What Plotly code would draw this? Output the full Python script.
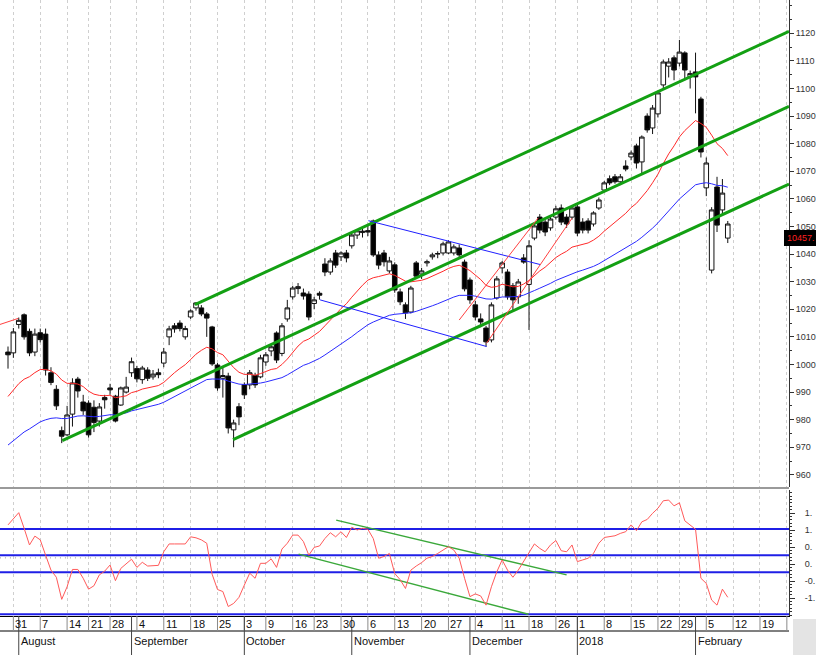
import plotly.graph_objects as go
import pandas as pd

# ---------------- data ----------------
holidays = ["2017-08-15", "2017-08-25", "2017-10-02", "2017-10-20", "2017-12-25", "2018-01-26"]
first_day = "2017-07-28"
last_axis_day = "2018-03-02"

opens = [1004.5,1004.2,1014.5,1018.0,1012.0,1004.5,1011.5,1011.0,997.0,991.0,
         976.0,974.5,982.0,994.7,986.4,986.0,984.5,979.5,988.0,991.5,
         988.5,985.3,990.0,997.0,998.5,994.5,998.0,995.5,997.0,1000.5,
         1010.0,1014.0,1015.0,1010.0,1017.2,1020.5,1020.5,1018.3,1013.6,999.8,
         995.0,995.8,976.3,984.7,992.6,992.6,996.0,995.5,1000.9,1004.9,
         1011.4,1004.0,1016.5,1024.5,1027.5,1025.9,1025.5,1022.1,1025.8,1036.4,
         1033.5,1040.4,1039.0,1040.4,1043.0,1046.9,1047.8,1048.5,1052.0,1039.7,
         1040.4,1033.9,1036.1,1026.3,1021.6,1019.0,1036.8,1032.8,1036.8,1039.0,
         1040.0,1040.4,1040.4,1040.4,1042.2,1037.1,1030.6,1021.6,1016.5,1013.2,
         1008.9,1024.1,1035.0,1033.5,1028.5,1024.5,1038.6,1029.0,1045.8,1053.4,
         1051.6,1049.5,1053.4,1056.7,1053.4,1053.4,1057.1,1051.6,1052.0,1050.9,
         1056.7,1063.2,1067.3,1068.0,1066.2,1071.9,1075.2,1079.2,1073.4,1090.0,
         1085.7,1090.8,1101.3,1108.1,1111.1,1109.2,1112.9,1104.3,1106.0,1096.2,
         1064.0,1034.2,1064.3,1056.0,1045.8]
highs = [1006.5,1013.2,1017.0,1018.5,1013.0,1013.0,1013.0,1013.0,999.0,992.5,
         977.5,985.0,995.0,995.5,989.0,987.0,987.0,986.0,989.0,993.0,
         989.0,992.0,995.5,1002.5,999.5,999.5,999.0,998.0,998.5,1006.0,
         1014.0,1015.0,1016.0,1014.0,1020.0,1022.5,1021.5,1019.0,1014.0,1000.5,
         999.0,997.0,980.0,986.0,993.5,998.0,997.0,1003.5,1004.5,1007.5,
         1012.0,1015.0,1023.4,1028.5,1029.5,1027.5,1026.5,1024.5,1026.5,1038.5,
         1038.5,1041.5,1041.0,1041.5,1047.5,1049.0,1049.5,1050.5,1052.5,1041.0,
         1041.5,1039.0,1037.0,1027.5,1022.5,1028.5,1037.5,1035.0,1038.0,1040.5,
         1041.0,1044.5,1045.0,1043.5,1043.5,1038.0,1031.5,1023.0,1018.5,1014.0,
         1022.5,1032.0,1037.5,1034.5,1029.5,1031.0,1040.0,1045.0,1051.0,1054.5,
         1052.5,1053.5,1057.5,1058.0,1054.5,1057.5,1058.0,1053.0,1053.0,1055.5,
         1060.5,1066.5,1068.5,1069.0,1069.0,1074.0,1077.5,1080.0,1083.0,1091.0,
         1094.0,1099.0,1110.5,1111.0,1112.0,1117.6,1113.5,1106.5,1113.0,1097.0,
         1075.0,1057.0,1068.0,1067.2,1052.0]
lows = [998.5,1002.4,1013.0,1009.0,1003.0,1003.0,1008.0,996.0,992.5,983.5,
        971.5,974.0,977.5,988.0,981.7,973.5,975.5,977.5,984.0,989.0,
        979.0,985.0,989.5,995.5,993.5,993.0,994.0,994.5,995.0,999.0,
        1007.0,1011.5,1012.0,1009.0,1016.5,1019.5,1017.5,1010.0,999.5,990.5,
        988.0,975.0,970.0,978.0,987.5,991.0,991.5,995.0,999.5,1003.0,
        1000.5,1003.0,1015.5,1023.5,1025.5,1023.5,1016.0,1020.0,1023.5,1032.0,
        1032.5,1035.0,1037.5,1037.0,1042.0,1045.5,1046.0,1046.5,1039.0,1034.5,
        1035.5,1033.0,1026.0,1021.5,1016.5,1018.5,1031.0,1031.0,1035.5,1038.0,
        1038.5,1039.5,1040.0,1039.5,1038.5,1026.5,1022.0,1016.0,1013.5,1006.5,
        1008.0,1023.5,1033.0,1023.5,1019.5,1022.0,1036.5,1012.5,1045.0,1047.5,
        1046.5,1048.5,1052.5,1050.5,1049.5,1052.5,1046.5,1047.5,1047.5,1050.0,
        1056.0,1062.5,1065.0,1065.5,1065.0,1070.0,1074.0,1071.0,1069.0,1084.0,
        1083.5,1089.5,1100.0,1104.0,1103.0,1108.0,1103.0,1100.0,1091.0,1075.0,
        1061.0,1033.0,1048.0,1054.0,1044.0]
closes = [1003.5,1011.8,1016.0,1010.0,1004.2,1011.0,1009.0,998.0,993.5,985.0,
          974.0,981.7,993.3,990.4,983.2,974.5,979.0,984.6,987.2,990.8,
          979.5,991.5,991.8,1001.0,994.8,998.7,995.0,996.5,996.3,1004.5,
          1012.9,1012.9,1013.0,1013.0,1019.4,1022.3,1018.3,1016.8,1000.2,991.5,
          996.0,977.0,978.8,981.0,989.0,997.0,992.6,1002.4,1003.5,1006.4,
          1001.6,1014.0,1020.5,1027.7,1028.2,1024.8,1017.2,1023.4,1025.1,1033.5,
          1037.5,1036.0,1040.4,1038.6,1046.9,1048.4,1048.3,1048.0,1039.7,1036.0,
          1037.2,1037.5,1027.0,1022.7,1018.7,1027.7,1032.0,1033.9,1037.2,1039.7,
          1040.2,1043.7,1044.4,1042.6,1039.7,1027.4,1023.4,1017.2,1015.4,1008.2,
          1021.6,1031.0,1036.8,1024.5,1023.4,1029.9,1037.1,1043.0,1050.2,1048.7,
          1048.0,1052.7,1056.4,1051.6,1050.9,1056.7,1047.6,1048.7,1048.7,1054.9,
          1059.6,1065.8,1065.8,1066.2,1068.0,1070.8,1076.6,1073.0,1082.4,1085.0,
          1092.9,1098.4,1109.6,1109.6,1106.7,1113.2,1106.7,1105.4,1104.2,1077.0,
          1073.0,1056.0,1050.5,1062.1,1050.9]

# moving averages: starting values, periods
red_ma_start, red_ma_period = 988.4, 20
blue_ma_start, blue_ma_period = 970.8, 50

# oscillator (lower panel)
osc = [1.15,1.34,1.51,1.05,0.56,0.82,0.71,0.26,-0.18,-0.39,
       -1.04,-0.67,-0.16,-0.16,-0.42,-0.74,-0.64,-0.32,-0.21,-0.03,
       -0.49,-0.13,0.02,0.14,-0.10,0.05,-0.06,-0.04,-0.04,0.36,
       0.59,0.59,0.59,0.59,0.80,0.77,0.71,0.61,-0.30,-0.75,
       -0.81,-1.25,-1.16,-0.98,-0.62,-0.27,-0.42,0.02,0.02,0.15,
       -0.10,0.44,0.61,0.85,0.85,0.66,0.26,0.49,0.53,0.75,
       0.92,0.80,0.95,0.78,1.08,1.00,1.05,1.02,0.75,0.17,
       0.22,0.31,-0.28,-0.46,-0.72,-0.18,-0.06,0.04,0.17,0.22,
       0.31,0.41,0.51,0.41,0.17,-0.42,-0.96,-0.88,-0.94,-1.21,
       -0.67,-0.23,0.12,-0.18,-0.39,-0.18,0.07,0.36,0.59,0.46,
       0.36,0.56,0.69,0.39,0.36,0.56,0.07,0.12,0.17,0.31,
       0.61,0.78,0.80,0.83,0.90,0.95,1.15,0.98,1.24,1.31,
       1.49,1.64,1.86,1.88,1.71,1.80,1.27,1.15,1.02,-0.42,
       -0.57,-1.06,-1.21,-0.74,-0.98]
osc_levels = [1.03, 0.26, -0.24, -1.48]
osc_dotted = 0.18
osc_ticks = [1.5, 1.0, 0.5, 0.0, -0.5, -1.0]
osc_tick_text = ["1.", "1.", "0.", "0.", "-0.", "-1."]   # as cut at the chart's right edge

# drawn lines (trading-day index, value)
green_channel = [((34.8, 1021.7), (145.4, 1120.7)),
                 ((10.1, 972.4), (145.4, 1093.5)),
                 ((41.9, 972.8), (145.4, 1065.4))]
blue_lines = [((67.1, 1052.1), (99.1, 1036.2)),
              ((58.1, 1023.4), (89.1, 1006.5))]
red_lines = [((84.0, 1016.1), (98.7, 1053.1)),
             ((89.1, 1007.7), (105.0, 1053.0)),
             ((-1.5, 1014.5), (1.9, 1016.7))]
osc_green = [((61.1, 1.29), (104.0, -0.32)),
             ((54.1, 0.29), (96.9, -1.48))]

price_ticks = list(range(960, 1121, 10))
month_names = ["August", "September", "October", "November", "December", "2018", "February"]
last_label = "10457."

# ---------------- build ----------------
days = [d for d in pd.bdate_range(first_day, last_axis_day) if d.strftime("%Y-%m-%d") not in holidays]
n = len(closes)
xi = list(range(n))

week_idx, week_txt = [], []
month_idx = []
for i, d in enumerate(days):
    if i == 0:
        continue
    if d.isocalendar()[1] != days[i - 1].isocalendar()[1]:
        week_idx.append(i)
        week_txt.append(str(d.day))
    if d.month != days[i - 1].month:
        month_idx.append(i)


def ema(vals, period, start):
    a = 2.0 / (period + 1)
    out = [start]
    for v in vals[1:]:
        out.append(out[-1] + a * (v - out[-1]))
    return out


red_ma = ema(closes, red_ma_period, red_ma_start)
blue_ma = ema(closes, blue_ma_period, blue_ma_start)

W, H = 816, 655
PLOT_R = 789          # right edge of plot area in px
PLOT_B = 616          # bottom of plot area in px
xr = [-1.49, 145.4]
main_bottom_px = 487
osc_top_px = 490


def py(ypx):
    return (PLOT_B - ypx) / PLOT_B


def px(xpx):
    return xpx / PLOT_R


FONT = "Liberation Sans Narrow, Arial Narrow, Liberation Sans, Arial, sans-serif"

fig = go.Figure()

fig.add_trace(go.Candlestick(
    x=xi, open=opens, high=highs, low=lows, close=closes,
    increasing=dict(line=dict(color="#111111", width=1), fillcolor="#ffffff"),
    decreasing=dict(line=dict(color="#111111", width=1), fillcolor="#000000"),
    whiskerwidth=0, xaxis="x", yaxis="y", showlegend=False, hoverinfo="skip"))

fig.add_trace(go.Scatter(x=xi, y=red_ma, mode="lines", line=dict(color="#ff2a2a", width=1),
                         xaxis="x", yaxis="y", hoverinfo="skip"))
fig.add_trace(go.Scatter(x=xi, y=blue_ma, mode="lines", line=dict(color="#2a2aff", width=1),
                         xaxis="x", yaxis="y", hoverinfo="skip"))

for (a, b) in green_channel:
    fig.add_trace(go.Scatter(x=[a[0], b[0]], y=[a[1], b[1]], mode="lines",
                             line=dict(color="#13a013", width=3), xaxis="x", yaxis="y", hoverinfo="skip"))
for (a, b) in blue_lines:
    fig.add_trace(go.Scatter(x=[a[0], b[0]], y=[a[1], b[1]], mode="lines",
                             line=dict(color="#1f1fff", width=1), xaxis="x", yaxis="y", hoverinfo="skip"))
for (a, b) in red_lines:
    fig.add_trace(go.Scatter(x=[a[0], b[0]], y=[a[1], b[1]], mode="lines",
                             line=dict(color="#ff4040", width=1), xaxis="x", yaxis="y", hoverinfo="skip"))

# oscillator
for lv in osc_levels:
    fig.add_trace(go.Scatter(x=xr, y=[lv, lv], mode="lines", line=dict(color="#1f1fe6", width=2),
                             xaxis="x2", yaxis="y2", hoverinfo="skip"))
fig.add_trace(go.Scatter(x=[xi[0] - 1.5, xi[-1]], y=[osc_dotted, osc_dotted], mode="lines",
                         line=dict(color="#999999", width=1, dash="1px,4px"),
                         xaxis="x2", yaxis="y2", hoverinfo="skip"))
for (a, b) in osc_green:
    fig.add_trace(go.Scatter(x=[a[0], b[0]], y=[a[1], b[1]], mode="lines",
                             line=dict(color="#3aa83a", width=1.5), xaxis="x2", yaxis="y2", hoverinfo="skip"))
fig.add_trace(go.Scatter(x=xi, y=osc, mode="lines", line=dict(color="#ff5a5a", width=1),
                         xaxis="x2", yaxis="y2", hoverinfo="skip"))

main_dom = [py(main_bottom_px), 1]
osc_dom = [0, py(osc_top_px)]

tickfont = dict(family=FONT, size=9, color="#333333")

fig.update_layout(
    width=W, height=H, margin=dict(l=0, r=W - PLOT_R, t=0, b=H - PLOT_B),
    paper_bgcolor="white", plot_bgcolor="white", showlegend=False,
    boxgap=0.15, boxgroupgap=0.0,
    xaxis=dict(domain=[0, 1], range=xr, anchor="y", tickvals=week_idx, showticklabels=False,
               ticks="", showgrid=True, gridcolor="#cfcfcf", gridwidth=1, griddash="3px,3px",
               zeroline=False, showline=False, rangeslider=dict(visible=False)),
    yaxis=dict(domain=main_dom, range=[955.6, 1132.07], side="right", anchor="x",
               tickvals=price_ticks, ticks="outside", ticklen=4, tickcolor="#333333",
               showline=True, linecolor="#333333", linewidth=1, showgrid=False, zeroline=False,
               minor=dict(ticks="outside", ticklen=2, dtick=5, tickcolor="#333333"),
               tickfont=tickfont, ticklabelstandoff=0),
    xaxis2=dict(domain=[0, 1], range=xr, anchor="y2", tickvals=week_idx, showticklabels=False,
                ticks="", showgrid=True, gridcolor="#cfcfcf", gridwidth=1, griddash="3px,3px",
                zeroline=False, showline=True, linecolor="#000000", linewidth=1),
    yaxis2=dict(domain=osc_dom, range=[(564 - PLOT_B) / 34.0, (564 - osc_top_px) / 34.0],
                side="right", anchor="x2", tickvals=osc_ticks, ticktext=osc_tick_text,
                ticks="outside", ticklen=5, tickcolor="#333333", showline=True,
                linecolor="#333333", showgrid=False, zeroline=False,
                minor=dict(ticks="outside", ticklen=2, dtick=0.1, tickcolor="#333333"),
                tickfont=tickfont, ticklabelstandoff=8),
)

shapes = []
annotations = []
# panel separator
shapes.append(dict(type="line", xref="paper", yref="paper", x0=0, x1=1, y0=py(488), y1=py(488),
                   line=dict(color="#9a9a9a", width=2)))
# date rows
ROW1_B = 631
shapes.append(dict(type="line", xref="paper", yref="paper", x0=0, x1=1, y0=py(ROW1_B), y1=py(ROW1_B),
                   line=dict(color="#000000", width=1)))
for i in week_idx:
    shapes.append(dict(type="line", xref="x2", yref="paper", x0=i, x1=i, y0=py(PLOT_B), y1=py(ROW1_B),
                       line=dict(color="#8a8a8a", width=1)))
for i in month_idx:
    shapes.append(dict(type="line", xref="x2", yref="paper", x0=i, x1=i, y0=py(PLOT_B), y1=py(H),
                       line=dict(color="#444444", width=1)))
for i, t in zip(week_idx, week_txt):
    if i >= xr[1] - 1:
        continue
    annotations.append(dict(x=i, y=py(623.5), xref="x2", yref="paper", text=t, showarrow=False,
                            xanchor="left", yanchor="middle", xshift=0,
                            font=dict(family=FONT, size=11, color="#111111")))
for i, t in zip(month_idx, month_names):
    annotations.append(dict(x=i, y=py(641), xref="x2", yref="paper", text=t, showarrow=False,
                            xanchor="left", yanchor="middle", xshift=0,
                            font=dict(family=FONT, size=11, color="#111111")))
# gray corner
shapes.append(dict(type="rect", xref="paper", yref="paper", x0=px(793), x1=px(W), y0=py(619), y1=py(H),
                   fillcolor="#e4e4e4", line=dict(width=0), layer="below"))
# last price label
shapes.append(dict(type="rect", xref="paper", yref="paper", x0=px(784), x1=px(W), y0=py(246), y1=py(230),
                   fillcolor="#000000", line=dict(width=0)))
annotations.append(dict(x=px(785), y=py(238), xref="paper", yref="paper", text=last_label, showarrow=False,
                        xanchor="left", yanchor="middle",
                        font=dict(family=FONT, size=9, color="#ff2020")))

fig.update_layout(shapes=shapes, annotations=annotations)
fig.write_html("out.html", config={"displayModeBar": False},
               post_script="document.body.style.margin='0';")
